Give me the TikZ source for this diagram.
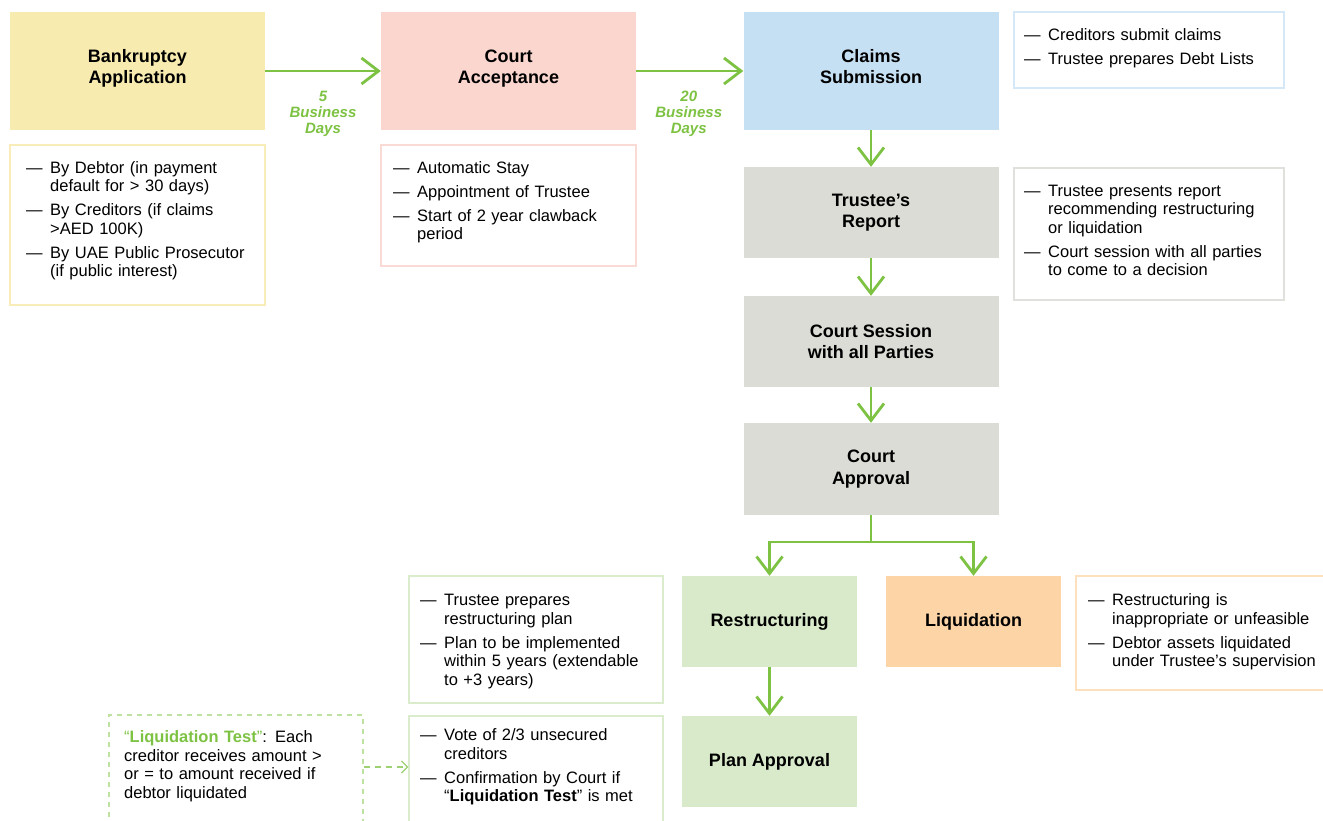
\documentclass[tikz,border=0pt]{standalone}
\usepackage{fontspec}
\setmainfont{Liberation Sans}
\usetikzlibrary{arrows.meta,calc}
\definecolor{agreen}{RGB}{125,194,66}
\definecolor{fyel}{RGB}{247,235,176}
\definecolor{fpink}{RGB}{250,214,206}
\definecolor{fblue}{RGB}{198,224,243}
\definecolor{fgray}{RGB}{220,220,214}
\definecolor{fgreen}{RGB}{217,234,203}
\definecolor{forange}{RGB}{253,212,166}
\definecolor{byel}{RGB}{248,237,185}
\definecolor{bpink}{RGB}{250,218,212}
\definecolor{bblue}{RGB}{212,232,247}
\definecolor{bgray}{RGB}{224,224,220}
\definecolor{bgreen}{RGB}{218,236,204}
\definecolor{borange}{RGB}{253,224,190}
\definecolor{bdash}{RGB}{190,225,160}
\newcommand{\fst}[1]{\noindent\hangindent=24pt\hangafter=1\makebox[24pt][l]{\textemdash}#1\par}
\newcommand{\nxt}[1]{\vspace{5.5pt}\fst{#1}}
\tikzset{
  stepbox/.style={inner sep=0pt, align=center, font=\fontsize{18}{21.5}\selectfont\bfseries},
  toptext/.style={inner sep=0pt, align=center, font=\fontsize{18}{21}\selectfont\bfseries, yshift=2.5pt},
  notebox/.style={draw, line width=1.3pt, fill=white, inner sep=0pt},
  notetext/.style={anchor=base west, inner sep=0pt, text width=300pt, align=left, font=\fontsize{16.5}{18.5}\selectfont},
  flow/.style={draw=agreen, line width=2.8pt, -{Straight Barb[length=17pt,width=26pt]}},
  flowline/.style={draw=agreen, line width=2.8pt},
  dashflow/.style={draw=agreen!75, line width=1.3pt, dash pattern=on 6pt off 5pt, -{Straight Barb[length=6pt,width=12pt]}},
  lbl/.style={inner sep=0pt, align=center, text=agreen, font=\fontsize{15}{16}\selectfont\bfseries\itshape}
}
\begin{document}
\begin{tikzpicture}[x=1pt,y=-1pt]
\useasboundingbox (0,0) rectangle (1323,821);
\fill[white] (0,0) rectangle (1323,821);
% main steps
\node[stepbox, fill=fyel, minimum width=255, minimum height=118, label={[toptext]center:\strut Bankruptcy\\Application\strut}] (bank) at (137.5,71) {};
\node[stepbox, fill=fpink, minimum width=255, minimum height=118, label={[toptext]center:\strut Court\\Acceptance\strut}] (court) at (508.5,71) {};
\node[stepbox, fill=fblue, minimum width=255, minimum height=118, label={[toptext]center:\strut Claims\\Submission\strut}] (claims) at (871,71) {};
\node[stepbox, fill=fgray, minimum width=255, minimum height=91] (trep) at (871,212.5) {Trustee’s\\Report};
\node[stepbox, fill=fgray, minimum width=255, minimum height=91] (csess) at (871,341.5) {Court Session\\with all Parties};
\node[stepbox, fill=fgray, minimum width=255, minimum height=92] (capp) at (871,469) {Court\\Approval};
\node[stepbox, fill=fgreen, minimum width=175, minimum height=91] (restr) at (769.5,621.5) {Restructuring};
\node[stepbox, fill=forange, minimum width=175, minimum height=91] (liq) at (973.5,621.5) {Liquidation};
\node[stepbox, fill=fgreen, minimum width=175, minimum height=91] (plan) at (769.5,761.5) {Plan Approval};
% note boxes
\node[notebox, draw=byel, minimum width=255, minimum height=160] (n1) at (137.5,225) {};
\node[notebox, draw=bpink, minimum width=255, minimum height=121] (n2) at (508.5,205.5) {};
\node[notebox, draw=bblue, minimum width=270, minimum height=76] (n3) at (1149,50) {};
\node[notebox, draw=bgray, minimum width=270, minimum height=132] (n4) at (1149,234) {};
\node[notebox, draw=bgreen, minimum width=254, minimum height=127] (nr) at (536,639.5) {};
\node[notebox, draw=borange, minimum width=264, minimum height=114] (nl) at (1208,633) {};
\node[notebox, draw=bgreen, minimum width=254, minimum height=124] (np) at (536,778) {};
\node[notebox, draw=bdash, dash pattern=on 5pt off 5pt, minimum width=254, minimum height=125] (lt) at (236,777.5) {};
% note texts
\node[notetext] (n1t) at (26,173.5) {\fst{By Debtor (in payment\newline default for > 30 days)}\nxt{By Creditors (if claims\newline >AED 100K)}\nxt{By UAE Public Prosecutor\newline (if public interest)}};
\node[notetext] (n2t) at (393,173.5) {\fst{Automatic Stay}\nxt{Appointment of Trustee}\nxt{Start of 2 year clawback\newline period}};
\node[notetext] (n3t) at (1024,40.5) {\fst{Creditors submit claims}\nxt{Trustee prepares Debt Lists}};
\node[notetext] (n4t) at (1024,196.5) {\fst{Trustee presents report\newline recommending restructuring\newline or liquidation}\nxt{Court session with all parties\newline to come to a decision}};
\node[notetext] (nrt) at (420,605.5) {\fst{Trustee prepares\newline restructuring plan}\nxt{Plan to be implemented\newline within 5 years (extendable\newline to +3 years)}};
\node[notetext] (nlt) at (1088,605.5) {\fst{Restructuring is\newline inappropriate or unfeasible}\nxt{Debtor assets liquidated\newline under Trustee’s supervision}};
\node[notetext] (npt) at (420,740.5) {\fst{Vote of 2/3 unsecured\newline creditors}\nxt{Confirmation by Court if\newline “\textbf{Liquidation Test}” is met}};
\node[notetext] (ltt) at (124,742.5) {\noindent\textcolor{agreen}{“\textbf{Liquidation Test}”}: Each\newline creditor receives amount >\newline or = to amount received if\newline debtor liquidated\par};
% connectors
\draw[flow] (bank.east) -- (court.west);
\draw[flow] (court.east) -- (claims.west);
\node[lbl] (l1) at ($(bank.east)!0.5!(court.west)+(0,42.5)$) {5\\Business\\Days};
\node[lbl] (l2) at ($(court.east)!0.5!(claims.west)+(-1,42.5)$) {20\\Business\\Days};
\draw[flow] (claims.south) -- (trep.north);
\draw[flow] (trep.south) -- (csess.north);
\draw[flow] (csess.south) -- (capp.north);
\coordinate (br) at (871,542);
\draw[flowline] (capp.south) -- (br);
\draw[flow] (br) -| (restr.north);
\draw[flow] (br) -| (liq.north);
\draw[flow] (restr.south) -- (plan.north);
\coordinate (dy) at (0,767);
\draw[dashflow] (lt.east |- dy) -- (np.west |- dy);
\end{tikzpicture}
\end{document}
